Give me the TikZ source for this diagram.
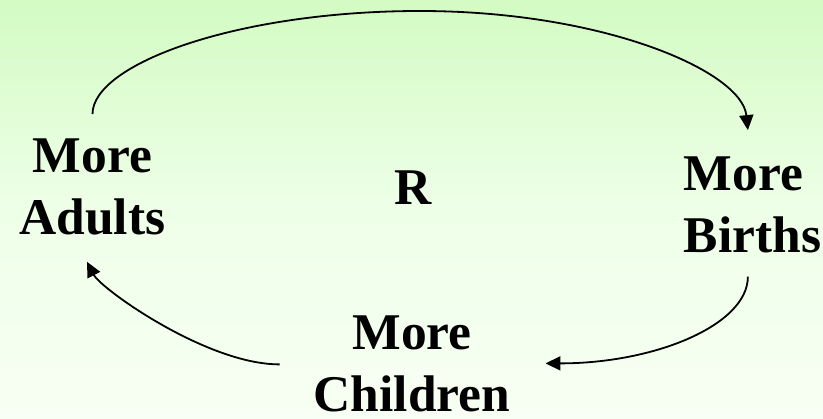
\documentclass[tikz,border=0pt]{standalone}
\usepackage{fontspec}
\setmainfont{Liberation Serif}
\usetikzlibrary{arrows.meta}
\definecolor{bgtop}{HTML}{D3FBC3}
\definecolor{bgmid}{HTML}{EEFFE8}
\definecolor{bgbot}{HTML}{F8FFF4}
\begin{document}
\begin{tikzpicture}[x=1pt,y=-1pt,
  lbl/.style={inner sep=0pt, font=\bfseries\fontsize{51.5}{62}\selectfont},
  conn/.style={line width=1.8pt, -{Triangle[length=15pt,width=14pt]}}]
\shade[top color=bgtop, bottom color=bgbot, middle color=bgmid] (0,0) rectangle (823,419);
\useasboundingbox (0,0) rectangle (823,419);
\node[lbl, align=center, anchor=base] (adults) at (92.5,235) {More\\Adults};
\node[lbl, align=left, anchor=base west] (births) at (683.5,253) {More\\Births};
\node[lbl, align=center, anchor=base] (children) at (412,412) {More\\Children};
\node[lbl, anchor=base] (r) at (413.5,205) {R};
\coordinate (top) at (420,11);
\draw[conn] ([yshift=25pt]adults.north) .. controls +(0,-50) and +(-183,0) .. (top)
  .. controls +(183,0) and +(-6,-59) .. ([xshift=-4.5pt,yshift=27pt]births.north);
\draw[conn] ([xshift=-4.5pt,yshift=-23pt]births.south) .. controls +(0,48) and +(110,0) .. ([xshift=35pt,yshift=1pt]children.east);
\draw[conn] ([xshift=-34pt,yshift=0pt]children.west) .. controls +(-73,0) and +(14,27) .. ([xshift=-5.5pt,yshift=-26pt]adults.south);
\end{tikzpicture}
\end{document}
